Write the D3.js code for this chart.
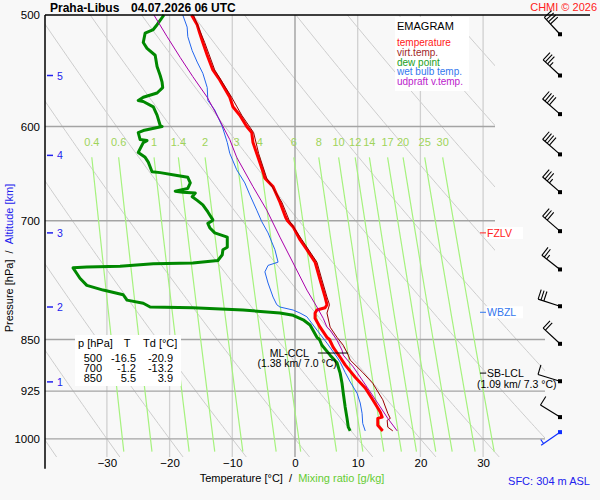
<!DOCTYPE html>
<html>
<head>
<meta charset="utf-8">
<title>Emagram Praha-Libus</title>
<script src="https://cdn.jsdelivr.net/npm/d3@7/dist/d3.min.js"></script>
<style>
  body { margin: 0; background: #f8f8f8; }
  svg { display: block; font-family: Arial, "Liberation Sans", sans-serif; }
</style>
</head>
<body>
<svg id="chart"></svg>
<script>
// grid / axis values
var pTicks = [500, 600, 700, 850, 925, 1000];
var tTicks = [-30, -20, -10, 0, 10, 20, 30];
var mixRatios = [0.4, 0.6, 1, 1.4, 2, 3, 4, 6, 8, 10, 12, 14, 17, 20, 25, 30];
var altKm = [1, 2, 3, 4, 5];
var altP = [911, 806, 714, 629, 552];

// temperature [hPa, °C]
var tempP = [500, 508, 515, 523, 534, 547, 556, 572, 581, 589,
             600, 606, 616, 627, 646, 653, 662, 679, 696, 700,
             707, 722, 734, 749, 771, 793, 803, 807, 810, 814,
             821, 833, 847, 850, 861, 875, 886, 904, 920, 938,
             957, 965, 967, 978, 986, 987];
var tempT = [-16.5, -15.6, -15.2, -14.7, -14.0, -13.1, -12.0, -10.4, -9.9, -8.8,
             -7.7, -6.9, -6.7, -6.1, -5.1, -4.8, -3.5, -2.4, -1.5, -1.2,
             -0.3, 0.8, 1.9, 3.2, 4.0, 4.8, 5.1, 4.8, 3.5, 3.2,
             3.2, 4.0, 5.1, 5.5, 6.1, 7.2, 8.0, 9.6, 11.2, 12.4,
             13.6, 13.9, 13.2, 13.2, 13.9, 14.0];

// virtual temperature
var virtP = [500, 523, 547, 572, 589, 606, 627, 653, 679, 700,
             722, 749, 771, 793, 803, 814, 833, 847, 858, 872,
             879, 897, 913, 938, 959, 967, 970, 981, 987];
var virtT = [-16.2, -14.4, -12.8, -10.1, -8.5, -6.6, -5.8, -4.5, -2.1, -0.9,
             1.1, 3.5, 4.3, 5.1, 5.5, 5.1, 5.6, 6.7, 7.7, 8.5,
             8.8, 10.8, 12.4, 14.0, 14.8, 15.2, 14.7, 14.8, 15.6];

// dew point
var dewP = [500, 508, 512, 515, 523, 528, 534, 544, 552, 558,
            563, 568, 572, 575, 576, 581, 589, 599, 600, 604,
            606, 613, 614, 616, 626, 631, 636, 646, 647, 650,
            652, 658, 664, 667, 668, 669, 673, 677, 682, 690,
            699, 700, 703, 708, 714, 719, 731, 734, 740, 747,
            750, 751, 754, 755, 756, 763, 769, 778, 784, 790,
            797, 801, 806, 807, 810, 814, 817, 823, 830, 847,
            850, 858, 872, 883, 898, 913, 928, 949, 967, 981,
            987];
var dewT = [-20.9, -22.0, -22.6, -23.9, -24.2, -23.6, -22.3, -22.0, -21.5, -21.2,
            -21.1, -22.0, -24.2, -25.0, -24.2, -22.6, -22.0, -21.5, -21.2, -24.2,
            -25.0, -24.7, -23.6, -24.2, -25.0, -23.9, -23.4, -22.8, -21.5, -18.8,
            -17.1, -16.7, -17.1, -19.1, -17.9, -15.9, -16.4, -15.6, -14.7, -13.9,
            -13.1, -13.2, -13.9, -13.6, -12.8, -10.8, -10.8, -11.5, -11.6, -12.3,
            -16.3, -22.6, -27.9, -33.2, -35.4, -34.8, -34.3, -33.2, -30.6, -27.4,
            -26.8, -24.2, -23.1, -16.3, -8.3, -2.4, -0.3, 1.3, 2.4, 3.5,
            3.9, 4.3, 5.6, 6.7, 7.2, 7.5, 7.7, 8.0, 8.3, 8.5,
            8.8];

// wet bulb temperature
var wetP = [500, 510, 518, 530, 540, 550, 563, 575, 584, 600,
            616, 627, 644, 658, 671, 688, 701, 714, 734, 749,
            753, 761, 775, 793, 803, 806, 810, 814, 819, 837,
            855, 875, 882, 897, 911, 928, 943, 959, 975, 987];
var wetT = [-17.9, -17.2, -17.1, -16.4, -15.6, -14.7, -14.0, -13.9, -12.8, -11.6,
            -10.8, -10.4, -9.3, -8.0, -7.2, -6.1, -5.3, -4.3, -3.2, -2.7,
            -4.3, -4.8, -4.3, -3.5, -2.9, -2.4, -0.3, 0.8, 1.9, 3.5,
            5.1, 6.7, 7.2, 8.0, 8.8, 9.9, 10.4, 10.7, 10.8, 11.2];

// updraft virtual temperature (parcel)
var parcelP = [500, 518, 536, 553, 572, 594, 613, 631, 662, 688,
               719, 750, 784, 806, 821, 833, 837, 851, 865, 872,
               889, 919, 949, 967, 987];
var parcelT = [-22.5, -20.4, -18.3, -16.3, -14.0, -12.0, -10.4, -9.3, -6.7, -4.5,
               -2.4, -0.3, 1.9, 3.5, 4.5, 5.1, 5.6, 6.7, 7.5, 7.7,
               9.3, 11.5, 13.6, 14.8, 16.3];

// wind [hPa, deg, kt]
var barbP = [516, 552, 588, 628, 668, 712, 758, 805, 856, 910, 965, 989];
var barbDir = [317, 313, 311, 311, 311, 311, 308, 288, 313, 287, 302, 235];
var barbSpd = [40, 35, 40, 40, 35, 30, 25, 30, 20, 10, 10, 3];

// table
var tableP = [500, 700, 850];
var tableT = [-16.5, -1.2, 5.5];
var tableTd = [-20.9, -13.2, 3.9];

// levels
var markName = ["FZLV", "WBZL"];
var markP = [714, 813];
var lclP = 898, lclKm = 1.09, lclT = 7.3;
var cclP = 869, cclKm = 1.38, cclT = 7.0;

var legendLabels = ["temperature", "virt.temp.", "dew point", "wet bulb temp.", "udpraft v.temp."];

// ---------------------------------------------------------------
var W = 600, H = 500;
var left = 45, right = 495, rightLow = 545, stepY = 318;
var colTemp = "#ff0000", colVirt = "#990000", colDew = "#008800",
    colWet = "#2266ee", colParcel = "#aa00aa", colAlt = "#2222ee";

var svg = d3.select("#chart").attr("width", W).attr("height", H);

var x = d3.scaleLinear().domain([-40, 40]).range([44.2, 545.8]);
var y = d3.scaleLog().domain([500, 1000]).range([15, 438.9]);
var pBottom = 1030;

function zip(ps, ts) {
	return ps.map(function(p, i) { return [p, ts[i]]; });
}
var line = d3.line()
	.x(function(d) { return x(d[1]); })
	.y(function(d) { return y(d[0]); });

svg.append("defs").append("clipPath").attr("id", "plotClip")
	.append("path")
	.attr("d", "M" + left + "," + y(500) + "H" + right + "V" + stepY +
		"H" + rightLow + "V" + y(pBottom) + "H" + left + "Z");

var grid = svg.append("g").attr("clip-path", "url(#plotClip)");

// dry adiabats
var thetas = d3.range(233.15, 430, 10);
var pSteps = d3.range(500, pBottom + 1, 5);
grid.append("g").selectAll("path")
	.data(thetas)
	.enter()
	.append("path")
	.attr("d", function(th) {
		return line(pSteps.map(function(p) {
			return [p, th * Math.pow(p / 1000, 0.2857) - 273.15];
		}));
	})
	.attr("fill", "none")
	.attr("stroke", "#cdcdcd")
	.attr("stroke-width", 1);

// isotherms
grid.append("g").selectAll("line")
	.data(tTicks)
	.enter()
	.append("line")
	.attr("x1", function(d) { return x(d); })
	.attr("x2", function(d) { return x(d); })
	.attr("y1", y(500))
	.attr("y2", y(pBottom))
	.attr("stroke", function(d) { return d === 0 ? "#999" : "#d0d0d0"; })
	.attr("stroke-width", 1.3);

// isobars
grid.append("g").selectAll("line")
	.data(pTicks.slice(1))
	.enter()
	.append("line")
	.attr("x1", left)
	.attr("x2", rightLow)
	.attr("y1", function(d) { return y(d); })
	.attr("y2", function(d) { return y(d); })
	.attr("stroke", "#a4a4a4")
	.attr("stroke-width", 1.3);

// mixing ratio lines
function mixT(w, p) {
	var e = w * p / (622 + w);
	var l = Math.log(e / 6.112);
	return 243.5 * l / (17.67 - l);
}
var mixTop = 631;
var mixSteps = d3.range(mixTop, pBottom + 1, 10);
grid.append("g").selectAll("path")
	.data(mixRatios)
	.enter()
	.append("path")
	.attr("d", function(w) {
		return line(mixSteps.map(function(p) { return [p, mixT(w, p)]; }));
	})
	.attr("fill", "none")
	.attr("stroke", "#a6f27e")
	.attr("stroke-width", 1.2);

svg.append("g").selectAll("text")
	.data(mixRatios)
	.enter()
	.append("text")
	.attr("x", function(w) { return x(mixT(w, mixTop)); })
	.attr("y", y(mixTop) - 11)
	.attr("text-anchor", "middle")
	.attr("font-size", "11px")
	.attr("fill", "#9fd45a")
	.text(function(w) { return w; });

// sounding curves
var curves = svg.append("g").attr("fill", "none").attr("stroke-linejoin", "round");
curves.append("path").attr("d", line(zip(dewP, dewT))).attr("stroke", colDew).attr("stroke-width", 3);
curves.append("path").attr("d", line(zip(wetP, wetT))).attr("stroke", colWet).attr("stroke-width", 1);
curves.append("path").attr("d", line(zip(tempP, tempT))).attr("stroke", colTemp).attr("stroke-width", 3);
curves.append("path").attr("d", line(zip(virtP, virtT))).attr("stroke", colVirt).attr("stroke-width", 1);
curves.append("path").attr("d", line(zip(parcelP, parcelT))).attr("stroke", colParcel).attr("stroke-width", 1);

// frame
svg.append("line").attr("x1", left).attr("x2", 590).attr("y1", y(500)).attr("y2", y(500))
	.attr("stroke", "#000").attr("stroke-width", 1.5);
svg.append("line").attr("x1", left).attr("x2", left).attr("y1", y(500)).attr("y2", y(1050))
	.attr("stroke", "#000").attr("stroke-width", 1.5);

// axes
var yAxis = d3.axisLeft(y).tickValues(pTicks).tickSize(0).tickPadding(5).tickFormat(d3.format("d"));
var gy = svg.append("g").attr("transform", "translate(" + left + ",0)").call(yAxis);
gy.select(".domain").remove();
gy.selectAll("text").attr("font-size", "11.5px").attr("fill", "#000").attr("font-family", null);

var xAxis = d3.axisBottom(x).tickValues(tTicks).tickSize(0).tickPadding(2);
var gx = svg.append("g").attr("transform", "translate(0," + y(pBottom) + ")").call(xAxis);
gx.select(".domain").remove();
gx.selectAll("text").attr("font-size", "11.5px").attr("fill", "#000").attr("font-family", null);

// altitude ticks
var alt = svg.append("g").selectAll("g").data(altKm).enter().append("g")
	.attr("transform", function(d, i) { return "translate(0," + y(altP[i]) + ")"; });
alt.append("line").attr("x1", 47).attr("x2", 53).attr("stroke", colAlt).attr("stroke-width", 1.5);
alt.append("text").attr("x", 57).attr("y", 4).attr("font-size", "10.5px").attr("fill", colAlt)
	.text(function(d) { return d; });

// titles
svg.append("text").attr("x", 50).attr("y", 12).attr("font-size", "12px").attr("font-weight", "bold")
	.text("Praha-Libus");
svg.append("text").attr("x", 131).attr("y", 12).attr("font-size", "12px").attr("font-weight", "bold")
	.text("04.07.2026 06 UTC");
svg.append("text").attr("x", 597).attr("y", 11).attr("text-anchor", "end").attr("font-size", "11px")
	.attr("fill", "#ff2020").text("CHMI \u00a9 2026");

var xt = svg.append("text").attr("x", 292).attr("y", 482).attr("text-anchor", "middle").attr("font-size", "11px");
xt.append("tspan").attr("fill", "#000").text("Temperature [\u00b0C]\u00a0\u00a0/\u00a0\u00a0");
xt.append("tspan").attr("fill", "#66cc33").text("Mixing ratio [g/kg]");

svg.append("text").attr("x", 590).attr("y", 485).attr("text-anchor", "end").attr("font-size", "11px")
	.attr("fill", colAlt).text("SFC: 304 m ASL");

var yt = svg.append("text").attr("transform", "translate(13,258) rotate(-90)")
	.attr("text-anchor", "middle").attr("font-size", "11px");
yt.append("tspan").attr("fill", "#000").text("Pressure [hPa]\u00a0\u00a0/\u00a0\u00a0");
yt.append("tspan").attr("fill", colAlt).text("Altitude [km]");

// legend
var leg = svg.append("g").attr("transform", "translate(395,17)");
leg.append("rect").attr("width", 74).attr("height", 74).attr("fill", "#fff");
leg.append("text").attr("x", 2).attr("y", 13).attr("font-size", "11px").text("EMAGRAM");
var legColors = ["#ff2020", "#a02828", "#22a022", "#3377ee", "#bb22cc"];
leg.selectAll("text.item").data(legendLabels).enter().append("text")
	.attr("class", "item")
	.attr("x", 2)
	.attr("y", function(d, i) { return 29 + i * 9.8; })
	.attr("font-size", "10px")
	.attr("fill", function(d, i) { return legColors[i]; })
	.text(function(d) { return d; });

// table
var tab = svg.append("g").attr("transform", "translate(75,335)");
tab.append("rect").attr("width", 106).attr("height", 51).attr("fill", "#fff");
tab.append("text").attr("x", 3).attr("y", 12).attr("font-size", "11px").text("p [hPa]");
tab.append("text").attr("x", 52).attr("y", 12).attr("text-anchor", "middle").attr("font-size", "11px").text("T");
tab.append("text").attr("x", 68).attr("y", 12).attr("font-size", "11px").text("Td [\u00b0C]");
var rows = tab.selectAll("g.row").data(tableP).enter().append("g")
	.attr("class", "row")
	.attr("transform", function(d, i) { return "translate(0," + (27 + i * 10) + ")"; })
	.attr("font-size", "11px")
	.attr("text-anchor", "end");
rows.append("text").attr("x", 27).text(function(d) { return d; });
rows.append("text").attr("x", 61).text(function(d, i) { return tableT[i].toFixed(1); });
rows.append("text").attr("x", 98).text(function(d, i) { return tableTd[i].toFixed(1); });

// level marks on the right
var markColors = ["#ff2020", "#3377ee"];
var marks = svg.append("g").selectAll("g").data(markName).enter().append("g")
	.attr("transform", function(d, i) { return "translate(0," + y(markP[i]) + ")"; });
marks.append("rect").attr("x", 486).attr("y", -6).attr("width", 37).attr("height", 12).attr("fill", "#fff");
marks.append("line").attr("x1", 480).attr("x2", 486)
	.attr("stroke", function(d, i) { return markColors[i]; });
marks.append("text").attr("x", 487).attr("y", 4).attr("font-size", "10.5px")
	.attr("fill", function(d, i) { return markColors[i]; })
	.text(function(d) { return d; });

// SB-LCL
var lcl = svg.append("g").attr("transform", "translate(0," + y(lclP) + ")").attr("font-size", "10.5px");
lcl.append("line").attr("x1", 480).attr("x2", 486).attr("stroke", "#000");
lcl.append("text").attr("x", 487).attr("y", 4).text("SB-LCL");
lcl.append("text").attr("x", 477).attr("y", 15)
	.text("(" + lclKm.toFixed(2) + " km/ " + lclT.toFixed(1) + " \u00b0C)");

// ML-CCL
var ccl = svg.append("g").attr("transform", "translate(0," + y(cclP) + ")").attr("font-size", "10.5px");
ccl.append("line").attr("x1", x(cclT) - 21).attr("x2", x(cclT) + 9).attr("stroke", "#000");
ccl.append("text").attr("x", x(cclT) - 30).attr("y", 4).attr("text-anchor", "end").text("ML-CCL");
ccl.append("text").attr("x", x(cclT) - 2).attr("y", 14).attr("text-anchor", "end")
	.text("(" + cclKm.toFixed(2) + " km/ " + cclT.toFixed(1) + " \u00b0C)");

// wind barbs
var barbX = 560, staffLen = 23, featherLen = 10, featherGap = 3;
var barbs = svg.append("g");
function drawBarb(p, dir, spd, color) {
	var cx = barbX, cy = y(p);
	var a = dir * Math.PI / 180;
	var ux = Math.sin(a), uy = -Math.cos(a);
	var fx = -uy, fy = ux;
	var tx = cx + ux * staffLen, ty = cy + uy * staffLen;
	var g = barbs.append("g").attr("stroke", color).attr("fill", color);
	g.append("line").attr("x1", cx).attr("y1", cy).attr("x2", tx).attr("y2", ty).attr("stroke-width", 1.2);
	g.append("rect").attr("x", cx - 2).attr("y", cy - 2).attr("width", 4).attr("height", 4).attr("stroke", "none");
	var rest = Math.round(spd / 5) * 5, pos = 0;
	while (rest >= 50) {
		var bx = tx - ux * pos, by = ty - uy * pos;
		g.append("path").attr("d", "M" + bx + "," + by + "L" + (bx + fx * featherLen) + "," + (by + fy * featherLen) +
			"L" + (bx - ux * 5) + "," + (by - uy * 5) + "Z");
		pos += 6; rest -= 50;
	}
	while (rest >= 10) {
		var bx2 = tx - ux * pos, by2 = ty - uy * pos;
		g.append("line").attr("x1", bx2).attr("y1", by2)
			.attr("x2", bx2 + fx * featherLen).attr("y2", by2 + fy * featherLen).attr("stroke-width", 1.1);
		pos += featherGap; rest -= 10;
	}
	if (rest >= 5) {
		if (pos === 0) pos = featherGap;
		var bx3 = tx - ux * pos, by3 = ty - uy * pos;
		g.append("line").attr("x1", bx3).attr("y1", by3)
			.attr("x2", bx3 + fx * featherLen / 2).attr("y2", by3 + fy * featherLen / 2).attr("stroke-width", 1.1);
	}
}
barbP.forEach(function(p, i) {
	drawBarb(p, barbDir[i], barbSpd[i], i === barbP.length - 1 ? "#1030ff" : "#000");
});
</script>
</body>
</html>
